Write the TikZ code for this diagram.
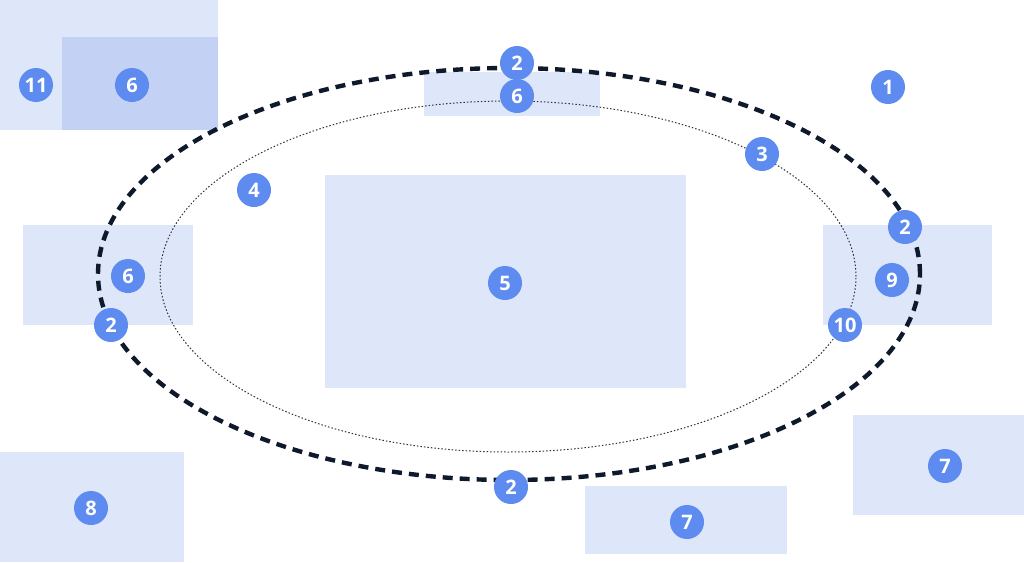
\documentclass[tikz,border=0pt]{standalone}
\usepackage{fontspec}
\setmainfont{Open Sans}
\usepackage{tikz}
\usetikzlibrary{shapes,backgrounds,positioning}
\definecolor{badgeblue}{HTML}{5E8BEF}
\definecolor{zonelight}{HTML}{DEE6FA}
\definecolor{zonedark}{HTML}{C3D2F4}
\definecolor{trackdark}{HTML}{0E1A2B}
\tikzstyle{zone} = [draw=none, fill=zonelight, rectangle, inner sep=0pt]
\tikzstyle{zonedeep} = [draw=none, fill=zonedark, rectangle, inner sep=0pt]
\tikzstyle{badge} = [circle, fill=badgeblue, text=white, minimum size=34pt, inner sep=0pt, font=\fontsize{20}{20}\bfseries\selectfont]
\tikzstyle{outertrack} = [draw=trackdark, line width=4.4pt, dash pattern=on 10pt off 7pt]
\tikzstyle{innertrack} = [draw=black!80, line width=1pt, dash pattern=on 1.5pt off 2pt]
\newcommand{\zone}[3]{node (z#1) [zone, minimum width=#2pt, minimum height=#3pt] {}}
\newcommand{\badge}[2]{node (b#1) [badge] {#2}}

\begin{document}
\begin{tikzpicture}[x=1pt,y=-1pt]
\useasboundingbox[fill=white] (0,0) rectangle (1024,562);
% zones
\path (109,65) \zone{1}{218}{130};
\path (140,83.5) node (z2) [zonedeep, minimum width=156pt, minimum height=93pt] {};
\path (512,94) \zone{3}{176}{44};
\path (108,275) \zone{4}{170}{100};
\path (505.5,281.5) \zone{5}{361}{213};
\path (907.5,275) \zone{6}{169}{100};
\path (938.5,465) \zone{7}{171}{100};
\path (686,520) \zone{8}{202}{68};
\path (92,507) \zone{9}{184}{110};

% tracks
\draw[outertrack] (509,274) ellipse [x radius=411pt, y radius=206pt];
\draw[innertrack] (508,276.5) ellipse [x radius=348pt, y radius=175.5pt];

% badges
\path (36,85) \badge{11}{11};
\path (132,85) \badge{6a}{6};
\path (517,63) \badge{2a}{2};
\path (517,96) \badge{6b}{6};
\path (888,87) \badge{1}{1};
\path (762,154) \badge{3}{3};
\path (254,190) \badge{4}{4};
\path (905,227) \badge{2b}{2};
\path (128,276) \badge{6c}{6};
\path (505,283) \badge{5}{5};
\path (892,280) \badge{9}{9};
\path (111,325) \badge{2c}{2};
\path (845,325) \badge{10}{10};
\path (511,487) \badge{2d}{2};
\path (945,466) \badge{7a}{7};
\path (687,522) \badge{7b}{7};
\path (91,508) \badge{8}{8};
\end{tikzpicture}
\end{document}
